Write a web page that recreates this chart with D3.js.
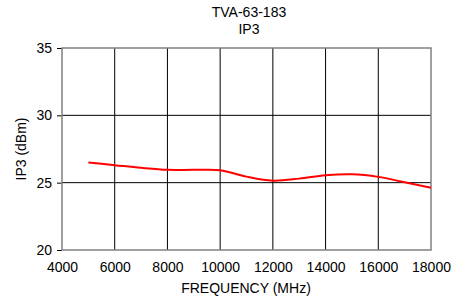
<!DOCTYPE html>
<html>
<head>
<meta charset="utf-8">
<script src="https://cdn.jsdelivr.net/npm/d3@7"></script>
<style>
  body { margin: 0; background: #fff; }
  text { font-family: "Liberation Sans", Arial, sans-serif; fill: #000; }
</style>
</head>
<body>
<svg id="chart" width="469" height="299"></svg>
<script>
let freq = [5000, 6000, 7000, 8000, 9000, 10000, 11000, 12000, 13000, 14000, 15000, 16000, 17000, 18000]
let ip3 = [26.5, 26.3, 26.1, 25.95, 25.95, 25.93, 25.45, 25.15, 25.3, 25.55, 25.62, 25.43, 25.03, 24.63]
let x_ticks = [4000, 6000, 8000, 10000, 12000, 14000, 16000, 18000]
let y_ticks = [20, 25, 30, 35]

let width = 469,
    height = 299,
    margins = {left: 62, right: 38, top: 48, bottom: 49}

let svg = d3.select("#chart")

let scales = {
  x: d3.scaleLinear().domain([4000, 18000]).range([margins.left, width - margins.right]),
  y: d3.scaleLinear().domain([20, 35]).range([height - margins.bottom, margins.top])
}

// grid lines
svg.append("g")
  .selectAll("line")
  .data(x_ticks.slice(1, -1)).enter()
  .append("line")
  .attr("x1", d => scales.x(d))
  .attr("x2", d => scales.x(d))
  .attr("y1", scales.y(20))
  .attr("y2", scales.y(35))
  .attr("stroke", "#000")
  .attr("stroke-width", 1)

svg.append("g")
  .selectAll("line")
  .data(y_ticks.slice(1, -1)).enter()
  .append("line")
  .attr("x1", scales.x(4000))
  .attr("x2", scales.x(18000))
  .attr("y1", d => scales.y(d))
  .attr("y2", d => scales.y(d))
  .attr("stroke", "#000")
  .attr("stroke-width", 1)

// axes
let x_axis = svg.append("g")
  .attr("transform", `translate(0, ${scales.y(20)})`)
  .call(d3.axisBottom(scales.x).tickValues(x_ticks).tickSize(0).tickPadding(12).tickFormat(d3.format("d")))
x_axis.select(".domain").remove()
x_axis.selectAll("text").style("font-size", "14px").attr("fill", "#000")

let y_axis = svg.append("g")
  .attr("transform", `translate(${scales.x(4000)}, 0)`)
  .call(d3.axisLeft(scales.y).tickValues(y_ticks).tickSize(5).tickPadding(5))
y_axis.select(".domain").remove()
y_axis.selectAll("line").attr("stroke", "#000")
y_axis.selectAll("text").style("font-size", "14px").attr("fill", "#000")

// border
svg.append("rect")
  .attr("x", scales.x(4000))
  .attr("y", scales.y(35))
  .attr("width", scales.x(18000) - scales.x(4000))
  .attr("height", scales.y(20) - scales.y(35))
  .attr("fill", "none")
  .attr("stroke", "#808080")
  .attr("stroke-width", 1.5)

// data line
let path_generator = d3.line()
  .x((d, i) => scales.x(freq[i]))
  .y(d => scales.y(d))
  .curve(d3.curveCatmullRom)

svg.append("path")
  .datum(ip3)
  .attr("d", path_generator)
  .attr("fill", "none")
  .attr("stroke", "#ff0000")
  .attr("stroke-width", 2)

// titles
svg.append("text").text("TVA-63-183")
  .attr("x", 249).attr("y", 17)
  .attr("text-anchor", "middle").style("font-size", "14px")
svg.append("text").text("IP3")
  .attr("x", 249).attr("y", 34)
  .attr("text-anchor", "middle").style("font-size", "14px")
svg.append("text").text("FREQUENCY (MHz)")
  .attr("x", 246).attr("y", 293)
  .attr("text-anchor", "middle").style("font-size", "14px")
svg.append("text").text("IP3 (dBm)")
  .attr("transform", `translate(26, ${(scales.y(20) + scales.y(35)) / 2}) rotate(-90)`)
  .attr("text-anchor", "middle").style("font-size", "14px")
</script>
</body>
</html>
